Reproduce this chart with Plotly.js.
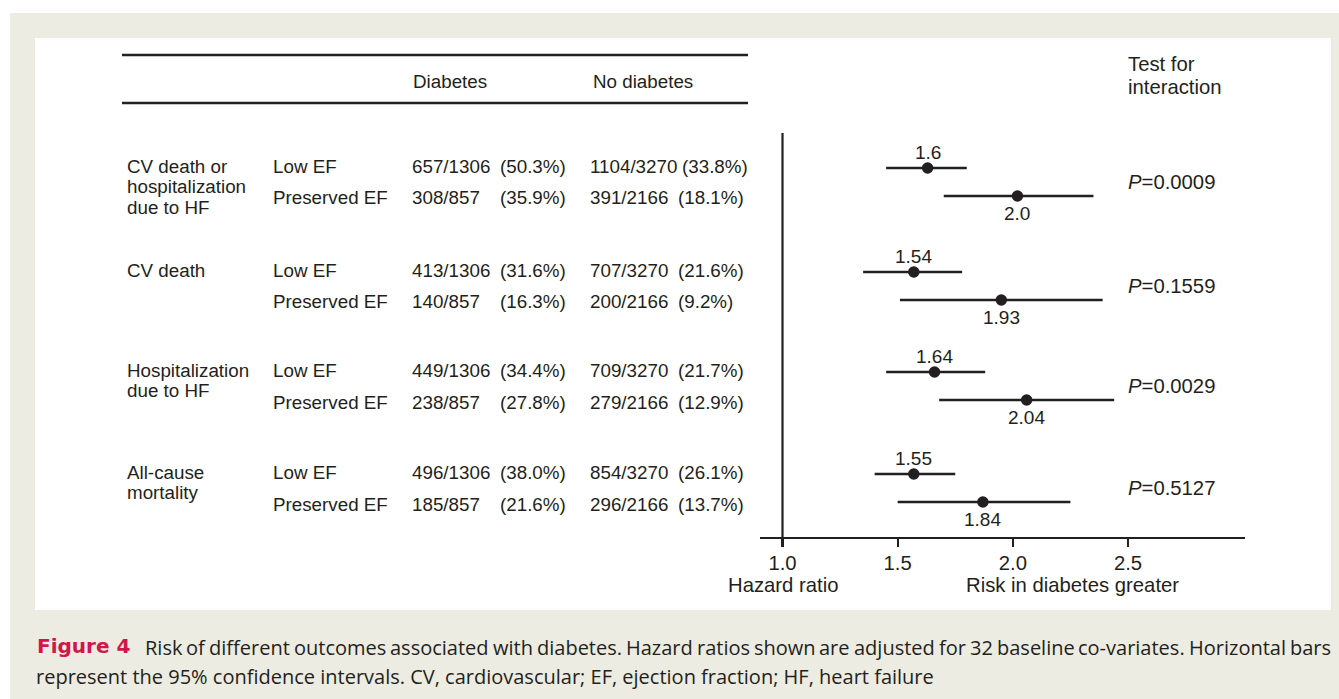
<!DOCTYPE html>
<html>
<head>
<meta charset="utf-8">
<script src="https://cdn.plot.ly/plotly-3.0.1.min.js"></script>
<style>html,body{margin:0;padding:0;background:#fff;}#chart{width:1339px;height:699px;}</style>
</head>
<body>
<div id="chart"></div>
<script>
// ---------------- DATA ----------------
const groupLabels = [
  ["CV death or", "hospitalization", "due to HF"],
  ["CV death"],
  ["Hospitalization", "due to HF"],
  ["All-cause", "mortality"]
];
const subgroups = ["Low EF", "Preserved EF"];
const diabCounts = ["657/1306", "308/857", "413/1306", "140/857", "449/1306", "238/857", "496/1306", "185/857"];
const diabPct = ["(50.3%)", "(35.9%)", "(31.6%)", "(16.3%)", "(34.4%)", "(27.8%)", "(38.0%)", "(21.6%)"];
const noDiabCounts = ["1104/3270", "391/2166", "707/3270", "200/2166", "709/3270", "279/2166", "854/3270", "296/2166"];
const noDiabPct = ["(33.8%)", "(18.1%)", "(21.6%)", "(9.2%)", "(21.7%)", "(12.9%)", "(26.1%)", "(13.7%)"];
const hr = [1.63, 2.02, 1.57, 1.95, 1.66, 2.06, 1.57, 1.87];
const ciLow = [1.45, 1.70, 1.35, 1.51, 1.45, 1.68, 1.40, 1.50];
const ciHigh = [1.80, 2.35, 1.78, 2.39, 1.88, 2.44, 1.75, 2.25];
const hrLabels = ["1.6", "2.0", "1.54", "1.93", "1.64", "2.04", "1.55", "1.84"];
const pValues = ["0.0009", "0.1559", "0.0029", "0.5127"];
const tickVals = [1.0, 1.5, 2.0, 2.5];
const tickText = ["1.0", "1.5", "2.0", "2.5"];
const colHeaders = ["Diabetes", "No diabetes"];
const captionLabel = "Figure 4";
const captionLine1 = "Risk of different outcomes associated with diabetes. Hazard ratios shown are adjusted for 32 baseline co-variates. Horizontal bars";
const captionLine2 = "represent the 95% confidence intervals. CV, cardiovascular; EF, ejection fraction; HF, heart failure";

// ---------------- LAYOUT HELPERS ----------------
const W = 1339, H = 699;
const X = px => px / W;
const Y = py => 1 - py / H;
const INK = "#231f20";
const FONT = "Liberation Sans, Arial, sans-serif";
const FS = 18.8;        // table text
const FS_R = 20.3;      // right-hand text (axis, P values)
const FS_HR = 19;       // hazard ratio labels
const PAD = 2;
const groupTop = [166, 270, 370, 472];
const tableRowGap = 32;
const forestRowGap = 28;
const axisY = 537;

const annotations = [];
function txt(px, py, text, opts = {}) {
  const anchor = opts.xanchor || "left";
  const shift = anchor === "left" ? -PAD : (anchor === "right" ? PAD : 0);
  annotations.push(Object.assign({
    xref: "paper", yref: "paper", text: text,
    showarrow: false, xanchor: "left", yanchor: "middle",
    font: {family: FONT, size: FS, color: INK}
  }, opts, {x: X(px + shift), y: Y(py)}));
}
const rightFont = {family: FONT, size: FS_R, color: INK};

// headers
txt(413, 82, colHeaders[0]);
txt(593, 82, colHeaders[1]);
txt(1128, 64, "Test for", {font: rightFont});
txt(1128, 87, "interaction", {font: rightFont});

// table rows
const rowY = [];
groupLabels.forEach((lines, g) => {
  lines.forEach((ln, k) => txt(127, groupTop[g] + k * 20.5, ln));
  subgroups.forEach((sg, s) => {
    const i = g * 2 + s;
    const ty = groupTop[g] + s * tableRowGap;
    txt(273, ty, sg);
    txt(412, ty, diabCounts[i]);
    txt(566, ty, diabPct[i], {xanchor: "right"});
    txt(590, ty, noDiabCounts[i]);
    txt(noDiabCounts[i].length > 8 ? 682 : 678, ty, noDiabPct[i]);
    rowY.push(groupTop[g] + 2 + s * forestRowGap);
  });
  txt(1128, groupTop[g] + 2 + forestRowGap / 2, "<i>P</i>=" + pValues[g], {font: rightFont});
});

// HR value labels (anchored to data axis)
hr.forEach((v, i) => {
  const above = i % 2 === 0;
  annotations.push({
    xref: "x", yref: "y", x: v, y: rowY[i], text: hrLabels[i], showarrow: false,
    xanchor: "center", yanchor: "middle", yshift: above ? 16 : -17,
    font: {family: FONT, size: FS_HR, color: INK}
  });
});

// axis labels
txt(783, 585, "Hazard ratio", {xanchor: "center", font: rightFont});
txt(1072, 585, "Risk in diabetes greater", {xanchor: "center", font: rightFont});

// ---------------- CAPTION ----------------
const CAP_FONT = "Open Sans";
const LABEL_FONT = "DejaVu Sans";
const LABEL_FS = 20;
const ctx = document.createElement("canvas").getContext("2d");
const line2Target = 898;
ctx.font = "20px " + CAP_FONT;
const CAP_FS = 20 * line2Target / ctx.measureText(captionLine2).width;
ctx.font = CAP_FS + "px " + CAP_FONT;
const words = captionLine1.split(" ");
const wordW = words.map(w => ctx.measureText(w).width);
const lineStart = 145, lineEnd = 1331;
const gap = (lineEnd - lineStart - wordW.reduce((a, b) => a + b, 0)) / (words.length - 1);
let cx = lineStart;
const capFont = {family: CAP_FONT, size: CAP_FS, color: INK};
words.forEach((w, k) => {
  txt(cx, 647, w, {font: capFont});
  cx += wordW[k] + gap;
});
txt(37, 646, "<b>" + captionLabel + "</b>", {font: {family: LABEL_FONT, size: LABEL_FS, color: "#d3164a"}});
txt(36, 676, captionLine2, {font: capFont});

const shapes = [
  {type: "rect", xref: "paper", yref: "paper", x0: X(10), x1: X(1339), y0: Y(699), y1: Y(13),
   fillcolor: "#edece2", line: {width: 0}, layer: "below"},
  {type: "rect", xref: "paper", yref: "paper", x0: X(35), x1: X(1331), y0: Y(610), y1: Y(38),
   fillcolor: "#ffffff", line: {width: 0}, layer: "below"},
  {type: "line", xref: "paper", yref: "paper", x0: X(122), x1: X(748), y0: Y(55), y1: Y(55),
   line: {color: INK, width: 2.5}},
  {type: "line", xref: "paper", yref: "paper", x0: X(122), x1: X(748), y0: Y(103), y1: Y(103),
   line: {color: INK, width: 2.5}},
  {type: "line", xref: "x", yref: "y", x0: 1, x1: 1, y0: 133, y1: axisY,
   line: {color: INK, width: 2.2}}
];

const trace = {
  type: "scatter", mode: "markers", x: hr, y: rowY,
  marker: {color: INK, size: 11.5},
  error_x: {type: "data", symmetric: false,
            array: hr.map((v, i) => ciHigh[i] - v),
            arrayminus: hr.map((v, i) => v - ciLow[i]),
            width: 0, thickness: 2.5, color: INK},
  hoverinfo: "skip", showlegend: false
};

const pxPerUnit = (1128 - 782.5) / 1.5;
const layout = {
  width: W, height: H,
  margin: {l: 0, r: 0, t: 0, b: 0, pad: 0},
  paper_bgcolor: "#ffffff", plot_bgcolor: "rgba(0,0,0,0)",
  showlegend: false,
  xaxis: {
    domain: [X(760), X(1245)],
    range: [1 - (782.5 - 760) / pxPerUnit, 1 + (1245 - 782.5) / pxPerUnit],
    showline: true, linecolor: INK, linewidth: 2.2,
    ticks: "outside", ticklen: 8, tickwidth: 2.2, tickcolor: INK,
    tickvals: tickVals, ticktext: tickText, ticklabelstandoff: -2,
    tickfont: {family: FONT, size: FS_R, color: INK},
    showgrid: false, zeroline: false, anchor: "y", fixedrange: true
  },
  yaxis: {
    domain: [1 - axisY / H, 1], range: [axisY, 0], autorange: false,
    visible: false, showgrid: false, zeroline: false, fixedrange: true
  },
  shapes: shapes,
  annotations: annotations
};

Plotly.newPlot("chart", [trace], layout, {staticPlot: true, displayModeBar: false});
</script>
</body>
</html>
